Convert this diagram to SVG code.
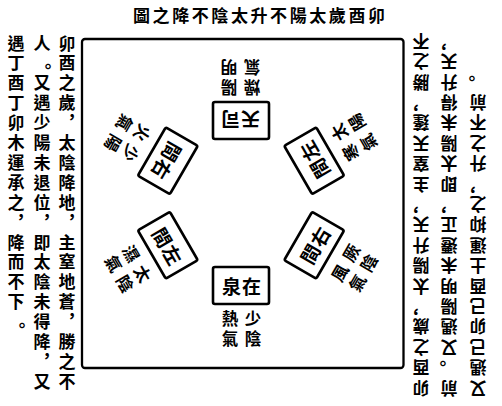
<svg xmlns="http://www.w3.org/2000/svg" width="502" height="406" viewBox="0 0 502 406">
<style>
text{font-family:"Noto Sans CJK TC","Noto Sans CJK SC",sans-serif;fill:#000;text-anchor:middle;dominant-baseline:central}
.title{font-size:17px;font-weight:700;text-anchor:start}
.body{font-size:17px;font-weight:600}
.boxt{font-size:19px;font-weight:700}
.lab{font-size:16.5px;font-weight:700}
.box{fill:#fff;stroke:#000;stroke-width:2.6}
.frame{fill:none;stroke:#000;stroke-width:2.3}
</style>
<rect width="502" height="406" fill="#fff"/>
<text class="title" x="133" y="14" textLength="252" lengthAdjust="spacing">圖之降不陰太升不陽太歲酉卯</text>
<rect class="frame" x="82" y="39" width="321.5" height="329" rx="3"/>
<g id="text-left">
<text class="body" x="67 67 67 67 72 67 67 67 67 72 67 67 67 67 72 67 67 67" y="42 61.9 81.8 101.7 115.6 141.5 161.4 181.3 201.2 215.1 241 260.9 280.8 300.7 314.6 340.5 360.4 380.3">卯酉之歲，太陰降地，主窒地蒼，勝之不</text>
<text class="body" x="42 48 42 42 42 42 42 42 42 47 42 42 42 42 42 42 47 42" y="42 65.9 81.8 101.7 121.6 141.5 161.4 181.3 201.2 215.1 241 260.9 280.8 300.7 320.6 340.5 354.4 380.3">人。又遇少陽未退位，即太陰未得降，又</text>
<text class="body" x="16 16 16 16 16 16 16 16 16 21 16 16 16 16 22" y="42 61.9 81.8 101.7 121.6 141.5 161.4 181.3 201.2 215.1 241 260.9 280.8 300.7 324.6">遇丁酉丁卯木運承之，降而不下。</text>
</g>
<g id="text-right" transform="rotate(180 251 203)">
<text class="body" x="81 81 81 81 86 81 81 81 81 86 81 81 81 81 86 81 81 81" y="17 37.4 57.8 78.2 92.6 119 139.4 159.8 180.2 194.6 221 241.4 261.8 282.2 296.6 323 343.4 363.8">卯酉之歲，太陽升天，主窒天蓬，勝之不</text>
<text class="body" x="53 59 53 53 53 53 53 53 53 58 53 53 53 53 53 53 53 58" y="17 41.4 57.8 78.2 98.6 119 139.4 159.8 180.2 194.6 221 241.4 261.8 282.2 302.6 323 343.4 357.8">前。又遇陽明未遷正，即太陽未得升天，</text>
<text class="body" x="24 24 24 24 24 24 24 24 24 24 29 24 24 24 24 30" y="17 37.4 57.8 78.2 98.6 119 139.4 159.8 180.2 200.6 215 241.4 261.8 282.2 302.6 327">又遇己卯己酉土運抑之，升之不前。</text>
</g>
<g id="connectors"/>
<g id="station-sitian" transform="rotate(180 241 203)">
<rect class="box" x="213" y="267" width="56" height="37" rx="2"/>
<text class="boxt" x="231.5 251.5" y="285.5 285.5">天司</text>
<text class="lab" x="253 253 230 230" y="318 338 318 338">陽明燥氣</text>
</g>
<g id="station-zaiquan">
<rect class="box" x="213" y="267" width="56" height="37" rx="2"/>
<text class="boxt" x="231.5 251.5" y="285.5 285.5">泉在</text>
<text class="lab" x="253 253 230 230" y="318 338 318 338">少陰熱氣</text>
</g>
<g id="station-upper-left" transform="rotate(120 241 203)">
<rect class="box" x="213" y="269" width="56" height="37" rx="2"/>
<text class="boxt" x="231.5 251.5" y="287.5 287.5">間右</text>
<text class="lab" x="253 253 230 230" y="323 343 323 343">少陽火氣</text>
</g>
<g id="station-upper-right" transform="rotate(240 241 203)">
<rect class="box" x="213" y="269" width="56" height="37" rx="2"/>
<text class="boxt" x="231.5 251.5" y="287.5 287.5">間左</text>
<text class="lab" x="253 253 230 230" y="323 343 323 343">太陽寒氣</text>
</g>
<g id="station-lower-left" transform="rotate(60 241 203)">
<rect class="box" x="213" y="269" width="56" height="37" rx="2"/>
<text class="boxt" x="231.5 251.5" y="287.5 287.5">間左</text>
<text class="lab" x="253 253 230 230" y="323 343 323 343">太陰濕氣</text>
</g>
<g id="station-lower-right" transform="rotate(300 241 203)">
<rect class="box" x="213" y="269" width="56" height="37" rx="2"/>
<text class="boxt" x="231.5 251.5" y="287.5 287.5">間右</text>
<text class="lab" x="253 253 230 230" y="323 343 323 343">厥陰風氣</text>
</g>
</svg>
